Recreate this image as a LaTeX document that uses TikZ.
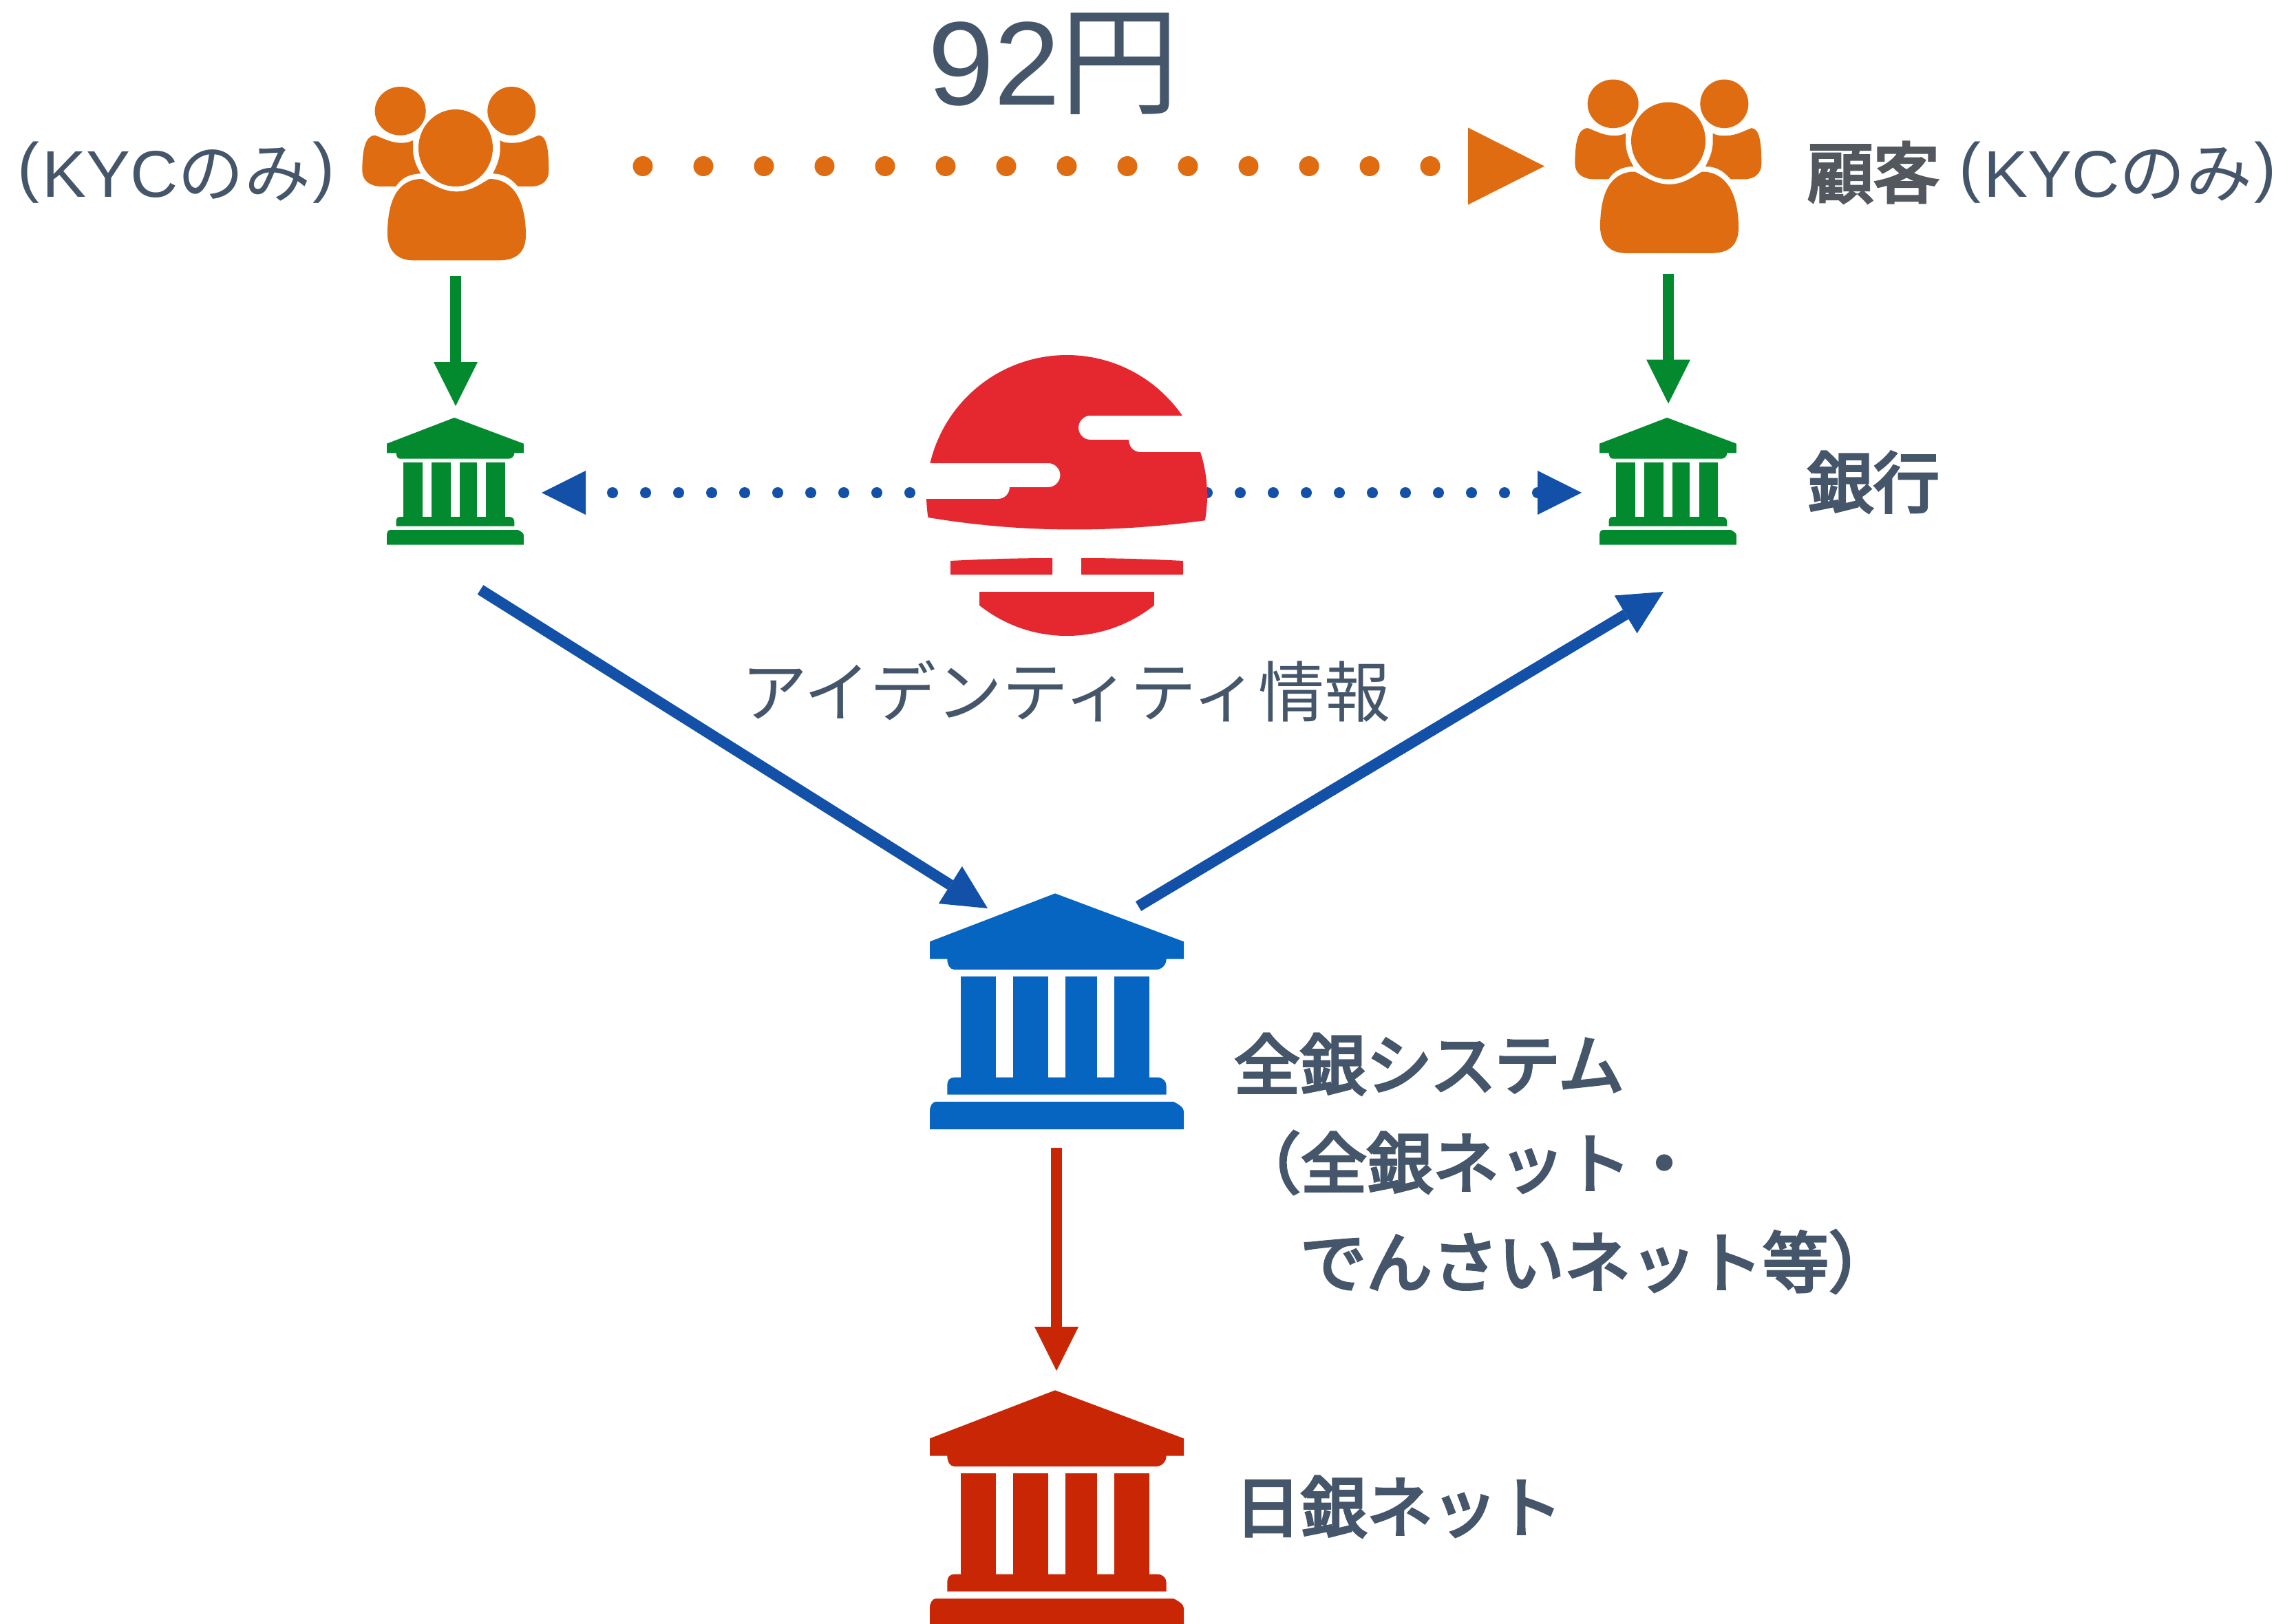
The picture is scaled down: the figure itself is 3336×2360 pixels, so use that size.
\documentclass[tikz,border=0pt]{standalone}
\usepackage{fontspec}
\usetikzlibrary{arrows.meta}
\newfontfamily\jp{Noto Sans CJK JP}
\newfontfamily\jpb[FakeBold=4]{Noto Sans CJK JP}
\newfontfamily\lat{Liberation Sans}
\definecolor{txt}{HTML}{45566B}
\definecolor{txtgray}{HTML}{53585F}
\definecolor{orangec}{HTML}{DF6C10}
\definecolor{greenc}{HTML}{038A2E}
\definecolor{bankblue}{HTML}{0565C0}
\definecolor{linkblue}{HTML}{1350A8}
\definecolor{redc}{HTML}{C82605}
\definecolor{logored}{HTML}{E52730}
\newcommand{\lparen}{\makebox[36pt][l]{\raisebox{11pt}{\lat (}}}
\newcommand{\rparen}{\raisebox{11pt}{\lat )}}
\tikzset{
  label96/.style={anchor=base west,inner sep=0pt,outer sep=0pt,text=txt,font=\fontsize{96}{96}\selectfont\jp},
  labelbold/.style={label96,font=\fontsize{96}{96}\selectfont\jpb},
  flow/.style={line width=16pt,-{Triangle[length=64pt,width=64pt,line width=0pt]}},
  greenflow/.style={flow,draw=greenc},
  blueflow/.style={flow,draw=linkblue},
  redflow/.style={flow,draw=redc},
  dotflow/.style={line cap=round}
}
\newcommand{\bankicon}[4]{%
  \begin{scope}[shift={(#1,#2)},scale=#3]
    \fill[#4] (153,295) -- (699,85) -- (1260,295) -- (1260,371) -- (1184,371)
      .. controls (1184,395) and (1165,417) .. (1140,417) -- (260,417)
      .. controls (240,417) and (229,395) .. (229,371) -- (153,371) -- cycle;
    \fill[#4] (289,447) rectangle (441,890);
    \fill[#4] (517,447) rectangle (669,890);
    \fill[#4] (744,447) rectangle (881,890);
    \fill[#4] (957,447) rectangle (1109,890);
    \fill[#4] (229,962) -- (229,920) .. controls (229,900) and (240,887) .. (260,887)
      -- (1145,887) .. controls (1170,887) and (1184,905) .. (1184,925) -- (1184,962) -- cycle;
    \fill[#4] (153,1113) -- (153,1035) .. controls (153,1010) and (165,993) .. (180,993)
      -- (1215,993) .. controls (1240,1005) and (1260,1020) .. (1260,1035) -- (1260,1113) -- cycle;
  \end{scope}}
\newcommand{\peopleicon}[2]{%
  \begin{scope}[shift={(#1,#2)},scale=0.33333]
    \fill[orangec] (546,405) ellipse [x radius=162,y radius=168];
    \fill[orangec] (305,244) ellipse [x radius=111,y radius=106];
    \fill[orangec] (790,244) ellipse [x radius=105,y radius=106];
    \fill[orangec] (400,540) .. controls (450,565) and (490,595) .. (550,595)
      .. controls (610,595) and (650,565) .. (693,540)
      .. controls (800,540) and (852,640) .. (852,785)
      .. controls (852,860) and (810,895) .. (735,895) -- (360,895)
      .. controls (290,895) and (249,850) .. (249,780)
      .. controls (249,640) and (290,540) .. (400,540) -- cycle;
    \fill[orangec] (195,350) .. controls (235,365) and (265,383) .. (310,383)
      .. controls (330,383) and (345,380) .. (360,372) -- (360,410)
      .. controls (360,450) and (375,485) .. (394,517)
      .. controls (345,518) and (310,535) .. (285,573) -- (225,573)
      .. controls (170,573) and (139,545) .. (139,505)
      .. controls (139,420) and (150,350) .. (195,350) -- cycle;
    \fill[orangec] (908,350) .. controls (870,365) and (840,383) .. (795,383)
      .. controls (765,383) and (750,380) .. (740,372) -- (740,410)
      .. controls (740,450) and (725,485) .. (708,517)
      .. controls (755,518) and (785,535) .. (818,573) -- (875,573)
      .. controls (925,573) and (952,545) .. (952,505)
      .. controls (952,420) and (945,350) .. (908,350) -- cycle;
  \end{scope}}
\begin{document}
\begin{tikzpicture}[x=1pt,y=-1pt]
\useasboundingbox (0,0) rectangle (3336,2360);
% icons
\peopleicon{480}{80}
\peopleicon{2242}{69.5}
\bankicon{534.5}{591.7}{0.1797}{greenc}
\bankicon{2296.5}{591.7}{0.1797}{greenc}
\bankicon{1300}{1270}{0.33333}{bankblue}
\bankicon{1300}{1992}{0.33333}{redc}
% connector ends
\coordinate (peopleLout) at (662,401);
\coordinate (bankLin) at (662,590);
\coordinate (peopleRout) at (2424,398);
\coordinate (bankRin) at (2424,586.5);
\coordinate (bankLout) at (698,857);
\coordinate (centerIn) at (1435,1320);
\coordinate (centerOut) at (1654,1317);
\coordinate (bankRlow) at (2417,860);
\coordinate (centerDown) at (1535,1668);
\coordinate (bojIn) at (1535,1992);
\coordinate (payStart) at (934,241.5);
\coordinate (payEnd) at (2244,241.5);
\coordinate (idLeft) at (787,716);
\coordinate (idRight) at (2298,716);
\coordinate (idLastDot) at (2234,716);
% connectors
\draw[greenflow] (peopleLout) -- (bankLin);
\draw[greenflow] (peopleRout) -- (bankRin);
\draw[blueflow] (bankLout) -- (centerIn);
\draw[blueflow] (centerOut) -- (bankRlow);
\draw[redflow] (centerDown) -- (bojIn);
\draw[dotflow,draw=orangec,line width=29pt,dash pattern=on 0pt off 88pt,
  -{Triangle[length=111pt,width=112pt,line width=0pt]}] (payStart) -- (payEnd);
\draw[dotflow,draw=linkblue,line width=16pt,dash pattern=on 0pt off 48pt,dash phase=9pt,
  {Triangle[length=64pt,width=64pt,line width=0pt]}-{Triangle[length=64pt,width=64pt,line width=0pt]}] (idLeft) -- (idRight);
\fill[linkblue] (idLastDot) circle [radius=8];
% logo
\fill[white] (1550,720) circle [radius=204];
\begin{scope}
  \clip (1550,720) circle [radius=204];
  \fill[logored,even odd rule]
    (1340,750.5) .. controls (1480,775) and (1620,775) .. (1760,755) -- (1760,500) -- (1340,500) -- cycle
    (1335,673) -- (1523,673) .. controls (1532.6,673) and (1540.5,681) .. (1540.5,690.5)
    .. controls (1540.5,700) and (1532.6,708) .. (1523,708) -- (1467,708)
    .. controls (1467,717.5) and (1459.5,725) .. (1450,725) -- (1335,725) -- cycle
    (1760,604) -- (1584,604) .. controls (1574.6,604) and (1567,612) .. (1567,621.5)
    .. controls (1567,631) and (1574.6,639) .. (1584,639) -- (1640,639)
    .. controls (1640,649) and (1647,657) .. (1657,657) -- (1760,657) -- cycle;
  \fill[logored] (1381,815) .. controls (1430,812.5) and (1480,811) .. (1529,811) -- (1529,835) -- (1381,835) -- cycle;
  \fill[logored] (1719,815) .. controls (1670,812.5) and (1620,811) .. (1571,811) -- (1571,835) -- (1719,835) -- cycle;
  \fill[logored] (1423,860) rectangle (1677,930);
\end{scope}
% texts
\node[label96] (kycL) at (25,286) {\lparen{\lat KYC}の\kern1ptみ\kern3pt\rparen};
\node[label96] (kycR) at (2626,287) {\textcolor{txtgray}{\jpb 顧客}\kern28pt\lparen{\lat KYC}の\kern1ptみ\kern3pt\rparen};
\node[labelbold] (ginko) at (2626,737) {銀行};
\node[label96] (idinfo) at (1077,1041) {アイデンティティ情報};
\node[label96,font=\fontsize{173}{173}\selectfont\jp] (price) at (1348,153) {{\lat 92}円};
\node[labelbold] (zen1) at (1793,1583) {全銀シ\kern-3ptス\kern-3ptテ\kern-3ptム};
\node[labelbold] (zen2) at (1794,1726) {（全銀ネット・};
\node[labelbold] (zen3) at (1889,1870) {でんさいネット等）};
\node[labelbold] (boj) at (1794,2226) {日銀ネ\kern-2ptッ\kern-2ptト};
\end{tikzpicture}
\end{document}
